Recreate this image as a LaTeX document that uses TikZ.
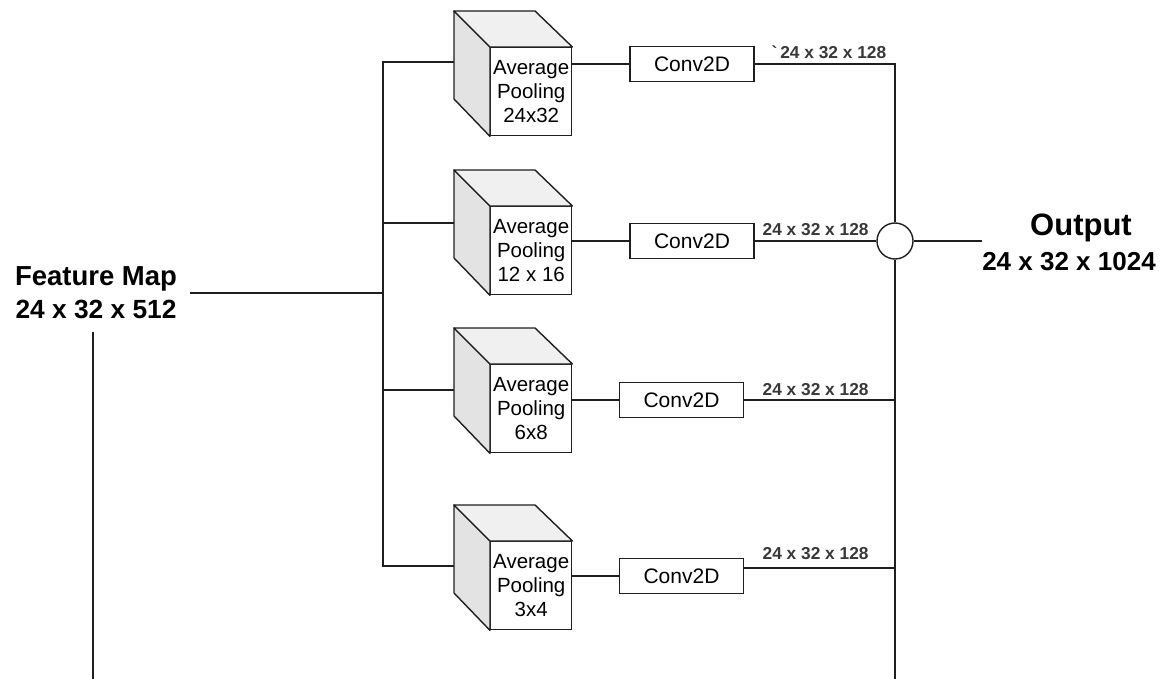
\documentclass[tikz,border=0pt]{standalone}
\usepackage{fontspec}
\setmainfont{Liberation Sans}
\newcommand\poolcube[3]{%
  \node[face] (#1) at (490,#2) {#3};
  \draw[fill=black!11, line join=round] (#1.north west) -- ++(-36,-36) -- ++(0,88) -- (#1.south west) -- cycle;
  \draw[fill=black!6, line join=round] (#1.north west) -- ++(-36,-36) -- ++(81,0) -- (#1.north east) -- cycle;
}
\begin{document}
\begin{tikzpicture}[x=1pt,y=-1pt, line width=1.4pt, draw=black!88,
  face/.style={draw, fill=white, minimum width=81pt, minimum height=88pt, inner sep=0pt, anchor=north west, align=center, font=\fontsize{20.5}{24}\selectfont},
  conv/.style={draw, fill=white, minimum width=124pt, minimum height=35pt, inner sep=0pt, font=\fontsize{21}{24}\selectfont},
  dim/.style={font=\bfseries\fontsize{17.3}{20}\selectfont, text=black!78, inner sep=0pt, anchor=west},
  sumnode/.style={circle, draw, fill=white, minimum size=36pt, inner sep=0pt}
]
\useasboundingbox (0,0) rectangle (1161,679);

% input
\node[align=center, inner sep=0pt, font=\bfseries\fontsize{26.3}{33}\selectfont] (fm) at (96,293) {{\fontsize{27.5}{33}\selectfont Feature Map}\\24 x 32 x 512};
\coordinate (lb) at (93,679);

% pooling cubes
\poolcube{c1}{47}{Average\\Pooling\\24x32}
\poolcube{c2}{206}{Average\\Pooling\\12 x 16}
\poolcube{c3}{364}{Average\\Pooling\\6x8}
\poolcube{c4}{541}{Average\\Pooling\\3x4}

\coordinate (c1in) at (454,62);
\coordinate (c2in) at (454,223);
\coordinate (c3in) at (454,390);
\coordinate (c4in) at (454,566);
\coordinate (bus1) at (383,62);
\coordinate (bus4) at (383,566);

% conv blocks
\node[conv] (k1) at (692,64) {Conv2D};
\node[conv] (k2) at (692,241) {Conv2D};
\node[conv] (k3) at (681.5,400) {Conv2D};
\node[conv] (k4) at (681.5,576) {Conv2D};

% concat
\node[sumnode] (sum) at (895,241) {};
\coordinate (rb) at (895,679);

% output
\node[align=center, inner sep=0pt, font=\bfseries\fontsize{26}{35}\selectfont] (out) at (1069,242) {\hspace*{24pt}{\fontsize{31}{35}\selectfont Output}\\24 x 32 x 1024};

% wires
\draw (fm.east -| 190,0) -- (fm.east -| bus1);
\draw ([yshift=-12pt]fm.south -| lb) -- (lb);
\draw (c1in) -- (bus1) -- (bus4) -- (c4in);
\draw (c2in) -- (c2in -| bus1);
\draw (c3in) -- (c3in -| bus1);

\draw (c1.east |- k1.west) -- (k1.west);
\draw (c2.east |- k2.west) -- (k2.west);
\draw (c3.east |- k3.west) -- (k3.west);
\draw (c4.east |- k4.west) -- (k4.west);

\draw (k1.east) -- (k1.east -| sum.north) -- (sum.north);
\draw (k2.east) -- (sum.west);
\draw (k3.east) -- (k3.east -| sum.south);
\draw ([yshift=8pt]k4.east) -- ([yshift=8pt]k4.east -| sum.south);
\draw (sum.south) -- (rb);
\draw (sum.east) -- (out.west |- sum.east);

% dimension labels
\node[dim] (l1) at (771,52) {\textasciigrave\,24 x 32 x 128};
\node[dim] (l2) at (762,230) {24 x 32 x 128};
\node[dim] (l3) at (762,390) {24 x 32 x 128};
\node[dim] (l4) at (762,554) {24 x 32 x 128};
\end{tikzpicture}
\end{document}
